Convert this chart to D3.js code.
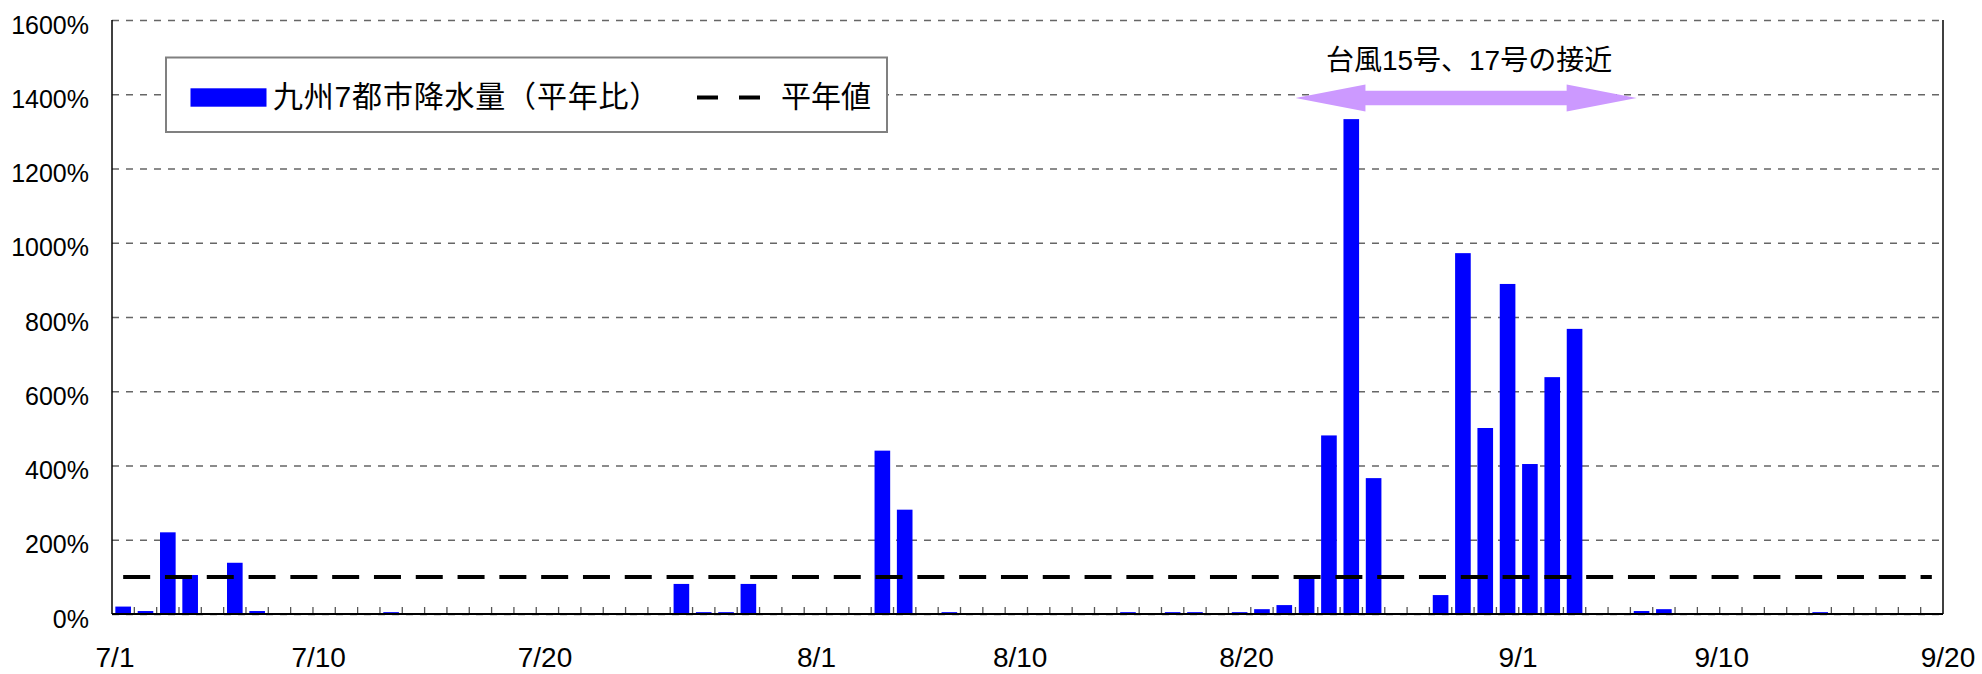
<!DOCTYPE html>
<html>
<head>
<meta charset="utf-8">
<script src="https://cdn.jsdelivr.net/npm/d3@7"></script>
<style>
body { margin: 0; background: #ffffff; }
text { font-family: "Liberation Sans", Arial, "Noto Sans CJK JP", sans-serif; fill: #000; }
</style>
</head>
<body>
<div id="chart"></div>
<script>
// categories: every day from 7/1 to 9/20
var months = [[7, 31], [8, 31], [9, 20]];
var days = [];
months.forEach(function(m) { for (var d = 1; d <= m[1]; d++) days.push(m[0] + "/" + d); });

// 九州7都市降水量（平年比） in %
var rainRatio = [
  20, 8, 220, 105, 0, 138, 8, 0, 0, 0,               // 7/1 - 7/10
  0, 0, 5, 0, 0, 0, 0, 0, 0, 0,                      // 7/11 - 7/20
  0, 0, 0, 0, 0, 81, 5, 5, 81, 0, 0,                 // 7/21 - 7/31
  0, 0, 0, 440, 281, 0, 5, 0, 0, 0,                  // 8/1 - 8/10
  0, 0, 0, 0, 5, 0, 5, 5, 0, 5,                      // 8/11 - 8/20
  13, 24, 100, 481, 1333, 366, 0, 0, 51, 972, 501,   // 8/21 - 8/31
  889, 404, 638, 768, 0, 0, 8, 13, 0, 0,             // 9/1 - 9/10
  0, 0, 0, 0, 5, 0, 0, 0, 0, 0                       // 9/11 - 9/20
];
var normalValue = 100;   // 平年値

var xTickLabels = ["7/1", "7/10", "7/20", "8/1", "8/10", "8/20", "9/1", "9/10", "9/20"];
var yTicks = [0, 200, 400, 600, 800, 1000, 1200, 1400, 1600];

var seriesName = "九州7都市降水量（平年比）";
var normalName = "平年値";
var annotText = "台風15号、17号の接近";
var annotFrom = "8/23", annotTo = "9/7";

var totalW = 1982, totalH = 674;
var margin = {top: 20, right: 39, bottom: 60, left: 112};
var width = totalW - margin.left - margin.right;
var height = totalH - margin.top - margin.bottom;

var svg = d3.select("#chart").append("svg")
  .attr("width", totalW)
  .attr("height", totalH);

var g = svg.append("g")
  .attr("transform", "translate(" + margin.left + "," + margin.top + ")");

var x = d3.scaleBand().domain(days).range([0, width]);
var xLab = d3.scalePoint().domain(days).range([3, width + 5]);
var y = d3.scaleLinear().domain([0, 1600]).range([height, 0]);
var step = x.step();

// gridlines + y labels
var yAxis = g.append("g")
  .call(d3.axisLeft(y).tickValues(yTicks).tickSize(-width).tickPadding(23)
    .tickFormat(function(d) { return d + "%"; }));
yAxis.select(".domain").remove();
yAxis.selectAll(".tick line")
  .attr("stroke", "#666")
  .attr("stroke-width", 1.3)
  .attr("stroke-dasharray", "7,7");
yAxis.selectAll(".tick text")
  .attr("dy", "0.52em")
  .style("font-size", "25px");

// bars
g.append("g").selectAll("rect")
  .data(rainRatio)
  .enter().append("rect")
  .attr("x", function(d, i) { return x(days[i]) + step * 0.15; })
  .attr("width", step * 0.7)
  .attr("y", function(d) { return y(d); })
  .attr("height", function(d) { return height - y(d); })
  .attr("fill", "#0000ff");

// normal line
g.append("line")
  .attr("x1", x(days[0]) + step / 2)
  .attr("x2", x(days[days.length - 1]) + step / 2)
  .attr("y1", y(normalValue))
  .attr("y2", y(normalValue))
  .attr("stroke", "#000")
  .attr("stroke-width", 4)
  .attr("stroke-dasharray", "27,14.8");

// axes lines
g.append("line").attr("x1", 0).attr("x2", 0).attr("y1", 0).attr("y2", height)
  .attr("stroke", "#000").attr("stroke-width", 1.5);
g.append("line").attr("x1", width).attr("x2", width).attr("y1", 0).attr("y2", height)
  .attr("stroke", "#000").attr("stroke-width", 1.5);

// minor ticks between days
g.append("g").selectAll("line")
  .data(days.slice(1))
  .enter().append("line")
  .attr("x1", function(d) { return x(d); })
  .attr("x2", function(d) { return x(d); })
  .attr("y1", height)
  .attr("y2", height - 7)
  .attr("stroke", "#555")
  .attr("stroke-width", 1.3);

g.append("line").attr("x1", 0).attr("x2", width).attr("y1", height).attr("y2", height)
  .attr("stroke", "#000").attr("stroke-width", 2);

// x labels
g.append("g").selectAll("text")
  .data(xTickLabels)
  .enter().append("text")
  .attr("x", function(d) { return xLab(d); })
  .attr("y", height + 53)
  .attr("text-anchor", "middle")
  .style("font-size", "28px")
  .text(function(d) { return d; });

// legend
var legend = svg.append("g");
legend.append("rect")
  .attr("x", 166).attr("y", 57.5)
  .attr("width", 721).attr("height", 74.5)
  .attr("fill", "#fff")
  .attr("stroke", "#808080")
  .attr("stroke-width", 2);
legend.append("rect")
  .attr("x", 190.5).attr("y", 88.3)
  .attr("width", 76).attr("height", 18.4)
  .attr("fill", "#0000ff");
legend.append("text")
  .attr("x", 273).attr("y", 107)
  .style("font-size", "30px")
  .style("letter-spacing", "0.8px")
  .text(seriesName);
legend.append("line")
  .attr("x1", 697).attr("x2", 760)
  .attr("y1", 97.5).attr("y2", 97.5)
  .attr("stroke", "#000")
  .attr("stroke-width", 4)
  .attr("stroke-dasharray", "21,21");
legend.append("text")
  .attr("x", 781).attr("y", 107)
  .style("font-size", "30px")
  .text(normalName);

// annotation arrow
var ax1 = x(annotFrom);
var ax2 = x(annotTo) + step * 0.28;
var ay = 78;
var headLen = 70, headHalf = 13.5, shaftHalf = 7.2;
var arrowPts = [
  [ax1, ay],
  [ax1 + headLen, ay - headHalf],
  [ax1 + headLen, ay - shaftHalf],
  [ax2 - headLen, ay - shaftHalf],
  [ax2 - headLen, ay - headHalf],
  [ax2, ay],
  [ax2 - headLen, ay + headHalf],
  [ax2 - headLen, ay + shaftHalf],
  [ax1 + headLen, ay + shaftHalf],
  [ax1 + headLen, ay + headHalf]
];
g.append("path")
  .attr("d", d3.line()(arrowPts) + "Z")
  .attr("fill", "#cc99ff");

g.append("text")
  .attr("x", (ax1 + ax2) / 2 + 3)
  .attr("y", 50)
  .attr("text-anchor", "middle")
  .style("font-size", "28px")
  .text(annotText);
</script>
</body>
</html>
